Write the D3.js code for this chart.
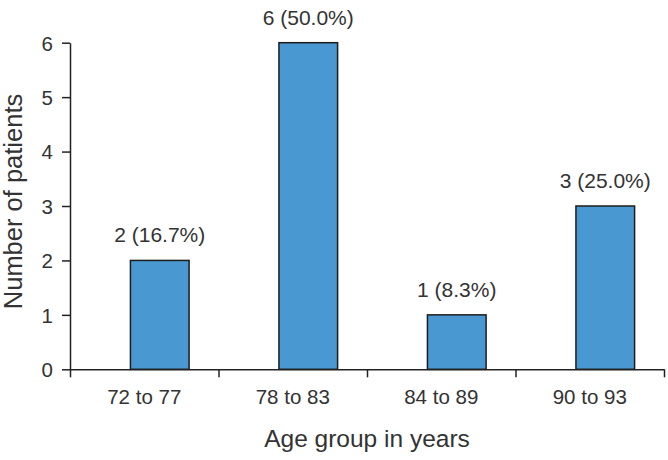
<!DOCTYPE html>
<html>
<head>
<meta charset="utf-8">
<script src="https://cdn.jsdelivr.net/npm/d3@7"></script>
<style>
    body { margin: 0; background: #fff; }
    svg { display: block; }
    text { font-family: "Liberation Sans", Arial, Helvetica, sans-serif; fill: #333; }
</style>
</head>
<body>
<div id="chart"></div>
<script>
// chart data
const ageGroups = ['72 to 77', '78 to 83', '84 to 89', '90 to 93'];
const patients = [2, 6, 1, 3];
const barLabels = ['2 (16.7%)', '6 (50.0%)', '1 (8.3%)', '3 (25.0%)'];
const yTicks = [0, 1, 2, 3, 4, 5, 6];

const width = 668;
const height = 460;
const margin = { top: 42.7, right: 4, bottom: 90.7, left: 70 };
const innerW = width - margin.left - margin.right;
const innerH = height - margin.top - margin.bottom;

let svg = d3.select('#chart')
    .append('svg')
    .attr('width', width)
    .attr('height', height);

let g = svg.append('g')
    .attr('transform', 'translate(' + margin.left + ',' + margin.top + ')');

let x = d3.scaleBand()
    .domain(ageGroups)
    .range([0, innerW])
    .padding(0);

// boundaries between the groups, for the x tick marks
let xEdge = d3.scaleLinear()
    .domain([0, ageGroups.length])
    .range([0, innerW]);

let y = d3.scaleLinear()
    .domain([0, 6])
    .range([innerH, 0]);

// bars (sit a bit right of the band centre, like the original)
g.selectAll('rect.bar')
    .data(patients)
    .enter()
    .append('rect')
    .attr('class', 'bar')
    .attr('x', (d, i) => x(ageGroups[i]) + x.bandwidth() * 0.407)
    .attr('width', x.bandwidth() * 0.395)
    .attr('y', d => y(d))
    .attr('height', d => y(0) - y(d))
    .style('fill', '#4a98d1')
    .style('stroke', '#1c1c1c')
    .style('stroke-width', 1.5);

// value labels
g.selectAll('text.val')
    .data(patients)
    .enter()
    .append('text')
    .attr('class', 'val')
    .attr('x', (d, i) => x(ageGroups[i]) + x.bandwidth() * 0.6045)
    .attr('y', d => y(d) - 18)
    .attr('text-anchor', 'middle')
    .style('font-size', '21px')
    .text((d, i) => barLabels[i]);

// y axis
let yAxis = g.append('g')
    .call(d3.axisLeft(y).tickValues(yTicks).tickFormat(d3.format('d'))
        .tickSize(8).tickSizeOuter(0).tickPadding(9));
yAxis.selectAll('text').style('font-size', '20.5px').attr('dy', '0.36em');

// x axis: marks at group edges, labels at group centres
let xTickAxis = g.append('g')
    .attr('transform', 'translate(0,' + innerH + ')')
    .call(d3.axisBottom(xEdge).ticks(ageGroups.length).tickSize(8).tickSizeOuter(0).tickFormat(''));

let xLabelAxis = g.append('g')
    .attr('transform', 'translate(0,' + innerH + ')')
    .call(d3.axisBottom(x).tickSize(0).tickPadding(20));
xLabelAxis.select('.domain').remove();
xLabelAxis.selectAll('text').style('font-size', '20.5px');

svg.selectAll('.domain, .tick line')
    .style('stroke', '#222')
    .style('stroke-width', 1.5);

// axis titles
svg.append('text')
    .attr('x', margin.left + innerW / 2)
    .attr('y', 447)
    .attr('text-anchor', 'middle')
    .style('font-size', '24.5px')
    .text('Age group in years');

svg.append('text')
    .attr('transform', 'translate(21.7,' + 201.5 + ') rotate(-90)')
    .attr('text-anchor', 'middle')
    .style('font-size', '25.5px')
    .text('Number of patients');
</script>
</body>
</html>
